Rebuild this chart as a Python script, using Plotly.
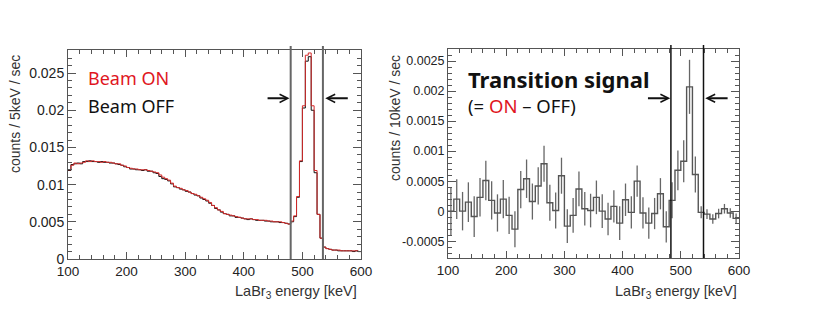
import plotly.graph_objects as go

# page body has an 8px margin, so the figure is drawn 8px smaller and shifted
OFFSET = 8
W, H = 830 - OFFSET, 326 - OFFSET

# --- data -------------------------------------------------------------
# left: 5 keV bins, 100..600 keV
E5_EDGES = list(range(100, 605, 5))
BEAM_ON = [
    0.0120, 0.0126, 0.0129, 0.0128, 0.0129, 0.0130, 0.0132, 0.0131, 0.0132, 0.0131,
    0.0131, 0.0130, 0.0131, 0.0130, 0.0130, 0.0129, 0.0128, 0.0128, 0.0126, 0.0125,
    0.0123, 0.0122, 0.0121, 0.0121, 0.0120, 0.0120, 0.0120, 0.0119, 0.0118, 0.0117,
    0.0116, 0.0113, 0.0110, 0.0108, 0.0106, 0.0102, 0.0098, 0.0096, 0.0095, 0.0093,
    0.0092, 0.0090, 0.0088, 0.0087, 0.0085, 0.0083, 0.0081, 0.0079, 0.0076, 0.0072,
    0.0069, 0.0066, 0.0064, 0.0061, 0.0060, 0.0059, 0.0058, 0.0057, 0.0056, 0.0055,
    0.0054, 0.0054, 0.0054, 0.0053, 0.0053, 0.0052, 0.0052, 0.0052, 0.0051, 0.0051,
    0.0050, 0.0050, 0.0050, 0.0049, 0.0048, 0.0047, 0.0051, 0.0058, 0.0084, 0.0132,
    0.0206, 0.0274, 0.0277, 0.0206, 0.0119, 0.0060, 0.0028, 0.0016, 0.0014, 0.0013,
    0.0012, 0.0012, 0.0012, 0.0011, 0.0011, 0.0011, 0.0011, 0.0011, 0.0011, 0.0010,
]
BEAM_OFF = [
    0.0119, 0.0127, 0.0128, 0.0129, 0.0128, 0.0131, 0.0131, 0.0132, 0.0131, 0.0131,
    0.0130, 0.0131, 0.0130, 0.0130, 0.0129, 0.0129, 0.0128, 0.0127, 0.0126, 0.0124,
    0.0123, 0.0121, 0.0121, 0.0120, 0.0120, 0.0119, 0.0120, 0.0118, 0.0118, 0.0116,
    0.0115, 0.0111, 0.0108, 0.0107, 0.0105, 0.0101, 0.0097, 0.0096, 0.0094, 0.0093,
    0.0091, 0.0090, 0.0088, 0.0086, 0.0085, 0.0082, 0.0080, 0.0078, 0.0075, 0.0072,
    0.0068, 0.0066, 0.0063, 0.0061, 0.0060, 0.0058, 0.0058, 0.0056, 0.0056, 0.0055,
    0.0054, 0.0053, 0.0054, 0.0053, 0.0052, 0.0052, 0.0052, 0.0051, 0.0051, 0.0050,
    0.0050, 0.0050, 0.0049, 0.0049, 0.0048, 0.0047, 0.0050, 0.0057, 0.0083, 0.0131,
    0.0203, 0.0266, 0.0272, 0.0200, 0.0116, 0.0060, 0.0028, 0.0016, 0.0014, 0.0013,
    0.0012, 0.0012, 0.0011, 0.0011, 0.0011, 0.0011, 0.0011, 0.0010, 0.0011, 0.0010,
]

# right: 10 keV bins, ON - OFF
E10_EDGES = list(range(100, 610, 10))
SIGNAL = [
    0.00000, 0.00020, 0.00000, 0.00015, -0.00009, 0.00023, 0.00051, 0.00018, -0.00003, 0.00020,
    -0.00007, -0.00030, 0.00036, 0.00054, 0.00016, 0.00042, 0.00079, 0.00014, 0.00001, 0.00059,
    -0.00025, -0.00007, 0.00037, 0.00004, 0.00001, 0.00023, 0.00000, -0.00013, 0.00008, -0.00020,
    0.00019, -0.00002, 0.00050, -0.00003, -0.00020, -0.00004, 0.00029, -0.00026, 0.00018, 0.00068,
    0.00083, 0.00207, 0.00061, -0.00002, -0.00005, -0.00013, -0.00004, 0.00004, -0.00003, -0.00012,
]
SIGNAL_ERR = [
    0.00040, 0.00033, 0.00032, 0.00033, 0.00034, 0.00032, 0.00033, 0.00032, 0.00031, 0.00032,
    0.00031, 0.00030, 0.00031, 0.00032, 0.00030, 0.00031, 0.00030, 0.00030, 0.00030, 0.00030,
    0.00028, 0.00029, 0.00029, 0.00028, 0.00028, 0.00028, 0.00028, 0.00027, 0.00027, 0.00028,
    0.00027, 0.00027, 0.00026, 0.00026, 0.00026, 0.00026, 0.00026, 0.00026, 0.00030, 0.00033,
    0.00035, 0.00045, 0.00030, 0.00010, 0.00008, 0.00008, 0.00008, 0.00008, 0.00008, 0.00008,
]

X_TICKS = [100, 200, 300, 400, 500, 600]
Y1_TICKS = [0, 0.005, 0.01, 0.015, 0.02, 0.025]
Y1_LABELS = ["0", "0.005", "0.01", "0.015", "0.02", "0.025"]
Y2_TICKS = [-0.0005, 0, 0.0005, 0.001, 0.0015, 0.002, 0.0025]
Y2_LABELS = ["-0.0005", "0", "0.0005", "0.001", "0.0015", "0.002", "0.0025"]

# integration window
WIN_LEFT = [480, 535]
WIN_RIGHT = [483, 539]


def px(x):
    return (x - OFFSET) / W


def py(y):
    return 1 - (y - OFFSET) / H


AXIS_COLOR = "#555555"
LABEL_FAMILY = "Liberation Sans, Arial"


def tick_font(size):
    return dict(family=LABEL_FAMILY, size=size, color="#222222")


fig = go.Figure()

# 左: beam ON / OFF
fig.add_trace(
    go.Scatter(
        x=E5_EDGES, y=BEAM_OFF + [BEAM_OFF[-1]], mode="lines", line_shape="hv",
        line=dict(color="#111111", width=1), xaxis="x", yaxis="y", showlegend=False,
    )
)
fig.add_trace(
    go.Scatter(
        x=E5_EDGES, y=BEAM_ON + [BEAM_ON[-1]], mode="lines", line_shape="hv",
        line=dict(color="#d42a2a", width=1), xaxis="x", yaxis="y", showlegend=False,
    )
)

# 右: transition signal
centers10 = [e + 5 for e in E10_EDGES[:-1]]
fig.add_trace(
    go.Scatter(
        x=centers10, y=SIGNAL, mode="markers",
        marker=dict(size=1, color="#555555"),
        error_y=dict(type="data", array=SIGNAL_ERR, width=0, thickness=1.3, color="#666666"),
        xaxis="x2", yaxis="y2", showlegend=False,
    )
)
fig.add_trace(
    go.Scatter(
        x=E10_EDGES, y=SIGNAL + [SIGNAL[-1]], mode="lines", line_shape="hv",
        line=dict(color="#555555", width=1.4), xaxis="x2", yaxis="y2", showlegend=False,
    )
)

xcommon = dict(
    range=[100, 600], tickvals=X_TICKS, ticks="inside", ticklen=7, tickcolor=AXIS_COLOR,
    minor=dict(dtick=20, tick0=100, ticks="inside", ticklen=4, tickcolor=AXIS_COLOR),
    showline=True, linecolor=AXIS_COLOR, linewidth=1, mirror="allticks",
    showgrid=False, zeroline=False, tickfont=tick_font(13.5), automargin=False,
)
ycommon = dict(
    ticks="inside", ticklen=8, tickcolor=AXIS_COLOR,
    showline=True, linecolor=AXIS_COLOR, linewidth=1, mirror="allticks",
    showgrid=False, zeroline=False, automargin=False,
)

fig.update_layout(
    width=W, height=H,
    margin=dict(l=0, r=0, t=0, b=0),
    paper_bgcolor="white", plot_bgcolor="white",
    xaxis=dict(domain=[px(68), px(361)], anchor="y", **xcommon),
    yaxis=dict(
        domain=[py(259), py(50)], anchor="x", range=[0, 0.0281],
        tickvals=Y1_TICKS, ticktext=Y1_LABELS, tickfont=tick_font(14),
        minor=dict(dtick=0.001, tick0=0, ticks="inside", ticklen=4, tickcolor=AXIS_COLOR),
        **ycommon,
    ),
    xaxis2=dict(domain=[px(448), px(739)], anchor="y2", **xcommon),
    yaxis2=dict(
        domain=[py(258), py(49)], anchor="x2", range=[-0.00078, 0.0027],
        tickvals=Y2_TICKS, ticktext=Y2_LABELS, tickfont=tick_font(12.5),
        minor=dict(dtick=0.0001, tick0=0, ticks="inside", ticklen=4, tickcolor=AXIS_COLOR),
        **ycommon,
    ),
)

# window lines
for e in WIN_LEFT:
    fig.add_shape(type="line", xref="x", yref="paper", x0=e, x1=e, y0=py(259), y1=py(46),
                  line=dict(color="#666666", width=2))
for e in WIN_RIGHT:
    fig.add_shape(type="line", xref="x2", yref="paper", x0=e, x1=e, y0=py(258), y1=py(45),
                  line=dict(color="#111111", width=1.5))

# arrows (tip, tail)
arrow = dict(text="", showarrow=True, arrowhead=5, arrowsize=0.8, arrowwidth=2,
             arrowcolor="#111111", standoff=0)
fig.add_annotation(x=478, y=0.0216, ax=438, ay=0.0216, xref="x", yref="y", axref="x", ayref="y", **arrow)
fig.add_annotation(x=539, y=0.0216, ax=580, ay=0.0216, xref="x", yref="y", axref="x", ayref="y", **arrow)
fig.add_annotation(x=482, y=0.00188, ax=441, ay=0.00188, xref="x2", yref="y2", axref="x2", ayref="y2", **arrow)
fig.add_annotation(x=542, y=0.00188, ax=583, ay=0.00188, xref="x2", yref="y2", axref="x2", ayref="y2", **arrow)

# labels
TEXT_FONT = "Noto Sans, Open Sans, sans-serif"
fig.add_annotation(x=px(86), y=py(78), xref="paper", yref="paper", xanchor="left", yanchor="middle",
                   text="Beam ON", showarrow=False, font=dict(family=TEXT_FONT, size=18, color="#e0161e"))
fig.add_annotation(x=px(86), y=py(106), xref="paper", yref="paper", xanchor="left", yanchor="middle",
                   text="Beam OFF", showarrow=False, font=dict(family=TEXT_FONT, size=18, color="#111111"))
fig.add_annotation(x=px(466), y=py(79), xref="paper", yref="paper", xanchor="left", yanchor="middle",
                   text="<b>Transition signal</b>", showarrow=False,
                   font=dict(family=TEXT_FONT, size=22, color="#111111"))
fig.add_annotation(x=px(466), y=py(106), xref="paper", yref="paper", xanchor="left", yanchor="middle",
                   text="(= <span style='color:#e0161e'>ON</span> \u2013 OFF)", showarrow=False,
                   font=dict(family=TEXT_FONT, size=18.5, color="#111111"))

# axis titles
XT_FONT = dict(family=LABEL_FAMILY, size=14.5, color="#333333")
YT_FONT = dict(family=LABEL_FAMILY, size=14, color="#333333")
for xr, ytxt, ymid in [(359, "counts / 5keV / sec", 15), (739, "counts / 10keV / sec", 395)]:
    fig.add_annotation(x=px(xr), y=py(292), xref="paper", yref="paper", xanchor="right", yanchor="middle",
                       text="LaBr<sub>3</sub> energy [keV]", showarrow=False, font=XT_FONT)
    fig.add_annotation(x=px(ymid), y=py(53), xref="paper", yref="paper", xanchor="center", yanchor="top",
                       text=ytxt, textangle=-90, showarrow=False, font=YT_FONT)

fig.write_html("out.html")
